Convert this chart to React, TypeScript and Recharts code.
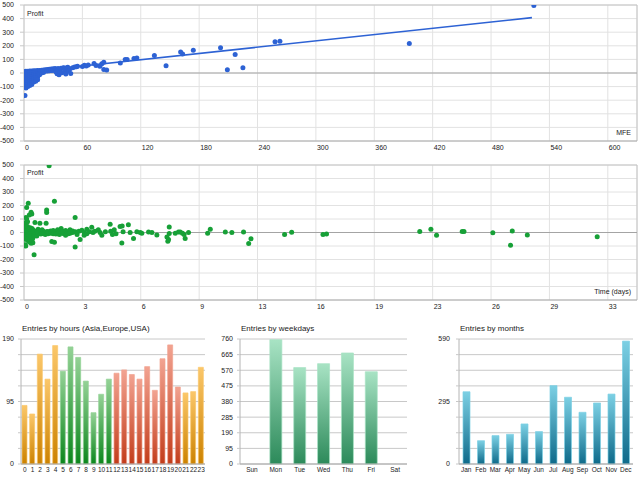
import React from "react";
import {
  ScatterChart,
  Scatter,
  XAxis,
  YAxis,
  CartesianGrid,
  ReferenceLine,
  BarChart,
  Bar,
  Cell,
} from "recharts";

const FONT = "'Liberation Sans', Arial, sans-serif";

// --- Profit vs MFE ---
const profitTicks = [-500, -400, -300, -200, -100, 0, 100, 200, 300, 400, 500];
const mfeTicks = [0, 60, 120, 180, 240, 300, 360, 420, 480, 540, 600];
const mfeTickLabels = ["0", "60", "120", "180", "240", "300", "360", "420", "480", "540", "600"];

const mfeProfitPoints: [number, number][] = [
  [0.5, 10], [0.5, 0], [0.5, -10], [0.5, -20], [0.5, -30], [0.5, -40], [0.5, -50], [0.5, -60], [0.5, -70], [0.5, -80], [0.5, -90], [1, -166],
  [2, 12], [2, 2], [2, -8], [2, -18], [2, -28], [2, -38], [2, -48], [2, -58], [2, -68], [2, -78], [2, -88], [2, -100], [2, -110],
  [4, 13], [4, 3], [4, -7], [4, -20], [4, -32], [4, -45], [4, -58], [4, -70], [4, -85], [4, -100],
  [6, 14], [6, 4], [6, -8], [6, -20], [6, -35], [6, -50], [6, -65], [6, -80], [6, -92],
  [8, 15], [8, 5], [8, -10], [8, -25], [8, -40], [8, -55], [8, -70], [8, -85],
  [10, 16], [10, 6], [10, -8], [10, -22], [10, -38], [10, -52], [10, -66],
  [12, 17], [12, 8], [12, -5], [12, -20], [12, -35], [12, -50], [12, -60],
  [14, 18], [14, 10], [14, -2], [14, -15], [14, -30], [14, -50],
  [16, 19], [16, 10], [16, 0], [16, -12],
  [18, 21], [18, 10], [18, 0],
  [20, 22], [20, 12], [20, 4],
  [22, 24], [22, 14], [24, 25], [24, 15], [26, 27], [26, 16], [28, 29], [28, 18], [30, 31], [30, 18],
  [32, 33], [33, 8], [34, -5], [35, 34], [36, -12], [37, 10], [38, 35], [39, 2], [40, 36], [41, 38],
  [42, 20], [43, -8], [44, 38], [45, 42], [46, 15], [47, 30], [48, -3], [50, 38], [52, 44], [54, 46], [55, 50],
  [60, 48], [62, 57], [64, 52], [66, 58], [72, 70], [74, 55], [78, 50], [80, 68], [82, 79], [82, 25], [85, 22],
  [99, 74], [104, 99], [106, 100], [113, 106], [116, 111], [134, 128], [146, 54], [161, 155], [163, 140], [174, 167],
  [202, 185], [209, 24], [217, 136], [225, 39], [258, 229], [263, 234], [396, 217], [524, 496],
];
const mfeTrend: [number, number][] = [[0, 5], [522, 407]];

// --- Profit vs Time (days) ---
const timeTicks = [0, 3.3, 6.6, 9.9, 13.2, 16.5, 19.8, 23.1, 26.4, 29.7, 33];
const timeTickLabels = ["0", "3", "6", "9", "13", "16", "19", "23", "26", "29", "33"];

const timeProfitPoints: [number, number][] = [
  [0.03, 70], [0.03, 50], [0.03, 30], [0.03, 10], [0.03, -10], [0.03, -30], [0.03, -50], [0.06, -90],
  [0.1, 60], [0.1, 40], [0.1, 20], [0.1, 0], [0.1, -20], [0.1, -40], [0.1, -100], [0.11, 111],
  [0.15, 186], [0.15, 100], [0.15, 30], [0.15, 10], [0.15, -15], [0.15, -35],
  [0.2, 80], [0.2, 45], [0.2, 15], [0.2, -5], [0.2, -25], [0.2, -60],
  [0.24, 216], [0.25, 25], [0.25, 5], [0.25, -12], [0.25, -45],
  [0.3, 130], [0.3, 20], [0.3, 0], [0.3, -20], [0.3, -70],
  [0.35, 35], [0.35, 8], [0.35, -10], [0.35, -50],
  [0.4, 150], [0.4, 15], [0.4, -5], [0.4, -30], [0.4, -80],
  [0.44, 137], [0.45, 30], [0.45, 0], [0.45, -60],
  [0.5, 20], [0.5, -8], [0.5, -40], [0.5, -75],
  [0.57, -164], [0.55, 10], [0.55, -20],
  [0.62, 74], [0.62, 5], [0.62, -15],
  [0.7, 12], [0.7, -10], [0.72, -25],
  [0.8, 25], [0.8, 8], [0.8, -5],
  [0.9, 69], [0.9, 0], [0.95, 15], [0.95, -12],
  [1.02, 20], [1.02, 5], [1.02, -8], [1.1, 10], [1.1, -5],
  [1.25, 69], [1.2, 0], [1.2, -15],
  [1.28, 166], [1.28, 148], [1.3, 8], [1.36, -10], [1.36, 5],
  [1.42, 495], [1.5, 12], [1.5, -6], [1.57, -66], [1.58, 3], [1.65, 15], [1.65, -10],
  [1.72, 231], [1.72, -73], [1.72, 0], [1.8, 8], [1.8, -12], [1.9, 20], [1.9, -5],
  [2.0, 5], [2.0, -15], [2.1, 30], [2.1, 0], [2.2, -8], [2.2, 10], [2.35, 15], [2.35, -20],
  [2.5, 5], [2.5, -10], [2.6, 20], [2.6, -5], [2.75, 0], [2.75, 12],
  [2.89, 111], [2.89, -108], [2.9, 5], [3.0, -15], [3.1, 10], [3.17, -51], [3.27, 16],
  [3.4, 0], [3.4, -20], [3.55, 25], [3.55, -10], [3.7, 5], [3.83, 38], [3.9, 0], [4.0, 10],
  [4.2, 20], [4.3, 0], [4.4, -20], [4.6, 5], [4.87, 61], [4.9, 10], [5.0, -15],
  [5.1, 20], [5.2, -10], [5.43, 45], [5.55, 48], [5.53, -77], [5.6, 5], [5.9, 57], [6.0, 0],
  [6.19, -44], [6.38, 5], [6.57, 0], [6.66, -6], [7.04, 4], [7.23, 0], [7.51, -19],
  [8.08, -34], [8.13, -64], [8.17, -51], [8.21, 41], [8.21, -8],
  [8.55, -6], [8.73, 4], [8.83, 4], [8.96, -6], [9.05, -15], [9.11, -44], [9.3, 0],
  [10.38, -6], [10.53, 24], [11.38, 4], [11.75, 0], [12.41, 4], [12.7, -81], [12.83, -47],
  [14.73, -15], [15.13, 2], [16.9, -15], [17.1, -12],
  [22.37, 8], [23.0, 25], [23.32, -20], [24.77, 8], [24.87, 8], [26.5, -2],
  [27.5, -95], [27.6, 12], [28.45, -18], [32.4, -32],
];

// --- Entries by hours ---
const hourLabels = ["0", "1", "2", "3", "4", "5", "6", "7", "8", "9", "10", "11", "12", "13", "14", "15", "16", "17", "18", "19", "20", "21", "22", "23"];
const hourEntries = [89, 76, 167, 129, 180, 141, 178, 162, 126, 78, 106, 129, 138, 143, 136, 129, 148, 112, 160, 181, 117, 108, 110, 147];
const hourSessions = ["asia", "asia", "asia", "asia", "asia", "europe", "europe", "europe", "europe", "europe", "europe", "europe", "usa", "usa", "usa", "usa", "usa", "usa", "usa", "usa", "usa", "asia", "asia", "asia"];
const hourAxisTicks = [0, 23.75, 47.5, 71.25, 95, 118.75, 142.5, 166.25, 190];
const hourAxisLabels = ["0", "", "", "", "95", "", "", "", "190"];

// --- Entries by weekdays ---
const weekdayLabels = ["Sun", "Mon", "Tue", "Wed", "Thu", "Fri", "Sat"];
const weekdayEntries = [0, 756, 586, 610, 675, 561, 0];
const weekdayAxisTicks = [0, 95, 190, 285, 380, 475, 570, 665, 760];
const weekdayAxisLabels = ["0", "95", "190", "285", "380", "475", "570", "665", "760"];

// --- Entries by months ---
const monthLabels = ["Jan", "Feb", "Mar", "Apr", "May", "Jun", "Jul", "Aug", "Sep", "Oct", "Nov", "Dec"];
const monthEntries = [341, 110, 134, 140, 189, 153, 370, 315, 244, 288, 330, 580];
const monthAxisTicks = [0, 73.75, 147.5, 221.25, 295, 368.75, 442.5, 516.25, 590];
const monthAxisLabels = ["0", "", "", "", "295", "", "", "", "590"];

const tickStyle = { fontSize: 7, fill: "#222", fontFamily: FONT };

function StartTick(props: any) {
  const { x, y, payload, labels, ticks, index } = props;
  const i = ticks.indexOf(payload.value);
  const label = labels[i >= 0 ? i : index];
  return (
    <text x={x + 1} y={y + 9} fontSize={7} fill="#222" fontFamily={FONT}>
      {label}
    </text>
  );
}

function Dot(color: string) {
  return (p: any) => <circle cx={p.cx} cy={p.cy} r={2.5} fill={color} />;
}

function ScatterPanel({ top, marginTop, points, trend, color, xMax, xTicks, xLabels, xName }: any) {
  const data = points.map(([x, y]: [number, number]) => ({ x, y }));
  const trendData = trend ? trend.map(([x, y]: [number, number]) => ({ x, y })) : null;
  return (
    <div style={{ position: "absolute", left: 0, top, width: 640, height: 152 }}>
      <ScatterChart width={640} height={152} margin={{ top: marginTop, right: 3, bottom: 0, left: 0 }}>
        <CartesianGrid stroke="#e2e2e2" />
        <XAxis
          type="number"
          dataKey="x"
          domain={[0, xMax]}
          ticks={xTicks}
          interval={0}
          height={11}
          tickSize={0}
          tickMargin={0}
          tickLine={false}
          axisLine={{ stroke: "#a8a8a8" }}
          tick={<StartTick labels={xLabels} ticks={xTicks} />}
          allowDataOverflow
        />
        <YAxis
          type="number"
          dataKey="y"
          domain={[-500, 500]}
          ticks={profitTicks}
          interval={0}
          width={24}
          tickSize={4}
          tickMargin={6}
          tick={tickStyle}
          tickLine={{ stroke: "#c8c8c8" }}
          axisLine={{ stroke: "#c8c8c8" }}
          allowDataOverflow
        />
        <ReferenceLine y={500} stroke="#c4c4c4" />
        <ReferenceLine x={xMax} stroke="#c4c4c4" />
        <ReferenceLine y={0} stroke="#a4a4a4" />
        <Scatter data={data} isAnimationActive={false} shape={Dot(color)} />
        {trendData && (
          <Scatter
            data={trendData}
            isAnimationActive={false}
            line={{ stroke: color, strokeWidth: 1.6 }}
            shape={() => <g />}
          />
        )}
      </ScatterChart>
      <div style={{ position: "absolute", left: 27, top: 10, fontSize: 7, lineHeight: 1, fontFamily: FONT, color: "#222" }}>
        Profit
      </div>
      <div style={{ position: "absolute", right: 9, top: 129, fontSize: 7, lineHeight: 1, fontFamily: FONT, color: "#222" }}>
        {xName}
      </div>
    </div>
  );
}

function BarPanel({ left, width, yWidth, yTickMargin, title, labels, values, max, axisTicks, axisLabels, barSize, gradients, cellIds, xFontSize }: any) {
  const data = labels.map((name: string, i: number) => ({ name, value: values[i] }));
  return (
    <div style={{ position: "absolute", left, top: 315, width, height: 165 }}>
      <BarChart width={width} height={165} margin={{ top: 24, right: 0, bottom: 0, left: 0 }} data={data}>
        <defs>
          {gradients.map((g: any) => (
            <linearGradient key={g.id} id={g.id} x1="0" y1="0" x2="0" y2="1">
              <stop offset="0%" stopColor={g.top} />
              <stop offset="100%" stopColor={g.bottom} />
            </linearGradient>
          ))}
        </defs>
        <CartesianGrid vertical={false} stroke="#c8c8c8" />
        <XAxis
          dataKey="name"
          interval={0}
          height={16}
          tickLine={false}
          tickSize={0}
          tickMargin={3}
          axisLine={{ stroke: "#a8a8a8" }}
          tick={{ ...tickStyle, fontSize: xFontSize }}
        />
        <YAxis
          type="number"
          domain={[0, max]}
          ticks={axisTicks}
          interval={0}
          width={yWidth}
          tickSize={3}
          tickMargin={yTickMargin}
          tick={tickStyle}
          tickLine={{ stroke: "#c8c8c8" }}
          axisLine={{ stroke: "#b4b4b4" }}
          tickFormatter={(v: number) => axisLabels[axisTicks.indexOf(v)] ?? ""}
        />
        <Bar dataKey="value" barSize={barSize} isAnimationActive={false}>
          {data.map((_: any, i: number) => {
            const g = gradients.find((gr: any) => gr.id === cellIds[i]);
            return <Cell key={i} fill={`url(#${cellIds[i]})`} stroke={g.top} strokeWidth={0.7} />;
          })}
        </Bar>
      </BarChart>
      <div style={{ position: "absolute", left: yWidth + 1, top: 10, fontSize: 8, lineHeight: 1, fontFamily: FONT, color: "#222", whiteSpace: "nowrap" }}>
        {title}
      </div>
    </div>
  );
}

const hourGradients = [
  { id: "g-asia", top: "#fbc76a", bottom: "#cc8200" },
  { id: "g-europe", top: "#94d296", bottom: "#0b861c" },
  { id: "g-usa", top: "#f2a391", bottom: "#c23c1a" },
];
const weekdayGradients = [{ id: "g-week", top: "#a8e3c4", bottom: "#2c8a5a" }];
const monthGradients = [{ id: "g-month", top: "#7cd0e4", bottom: "#0e6a8a" }];

export default function App() {
  return (
    <div style={{ position: "absolute", left: 0, top: 0, width: 640, height: 480, background: "#fff" }}>
      <ScatterPanel
        top={0}
        marginTop={5}
        points={mfeProfitPoints}
        trend={mfeTrend}
        color="#2d62d4"
        xMax={630}
        xTicks={mfeTicks}
        xLabels={mfeTickLabels}
        xName="MFE"
      />
      <ScatterPanel
        top={159}
        marginTop={6}
        points={timeProfitPoints}
        trend={null}
        color="#17a037"
        xMax={34.65}
        xTicks={timeTicks}
        xLabels={timeTickLabels}
        xName="Time (days)"
      />
      <BarPanel
        left={0}
        width={205}
        yWidth={21}
        yTickMargin={4}
        title="Entries by hours (Asia,Europe,USA)"
        labels={hourLabels}
        values={hourEntries}
        max={190}
        axisTicks={hourAxisTicks}
        axisLabels={hourAxisLabels}
        barSize={5}
        gradients={hourGradients}
        cellIds={hourSessions.map((s) => `g-${s}`)}
        xFontSize={6.5}
      />
      <BarPanel
        left={215}
        width={192}
        yWidth={25}
        yTickMargin={4}
        title="Entries by weekdays"
        labels={weekdayLabels}
        values={weekdayEntries}
        max={760}
        axisTicks={weekdayAxisTicks}
        axisLabels={weekdayAxisLabels}
        barSize={12}
        gradients={weekdayGradients}
        cellIds={weekdayLabels.map(() => "g-week")}
        xFontSize={6.5}
      />
      <BarPanel
        left={425}
        width={208}
        yWidth={34}
        yTickMargin={6}
        title="Entries by months"
        labels={monthLabels}
        values={monthEntries}
        max={590}
        axisTicks={monthAxisTicks}
        axisLabels={monthAxisLabels}
        barSize={7}
        gradients={monthGradients}
        cellIds={monthLabels.map(() => "g-month")}
        xFontSize={6.5}
      />
    </div>
  );
}
